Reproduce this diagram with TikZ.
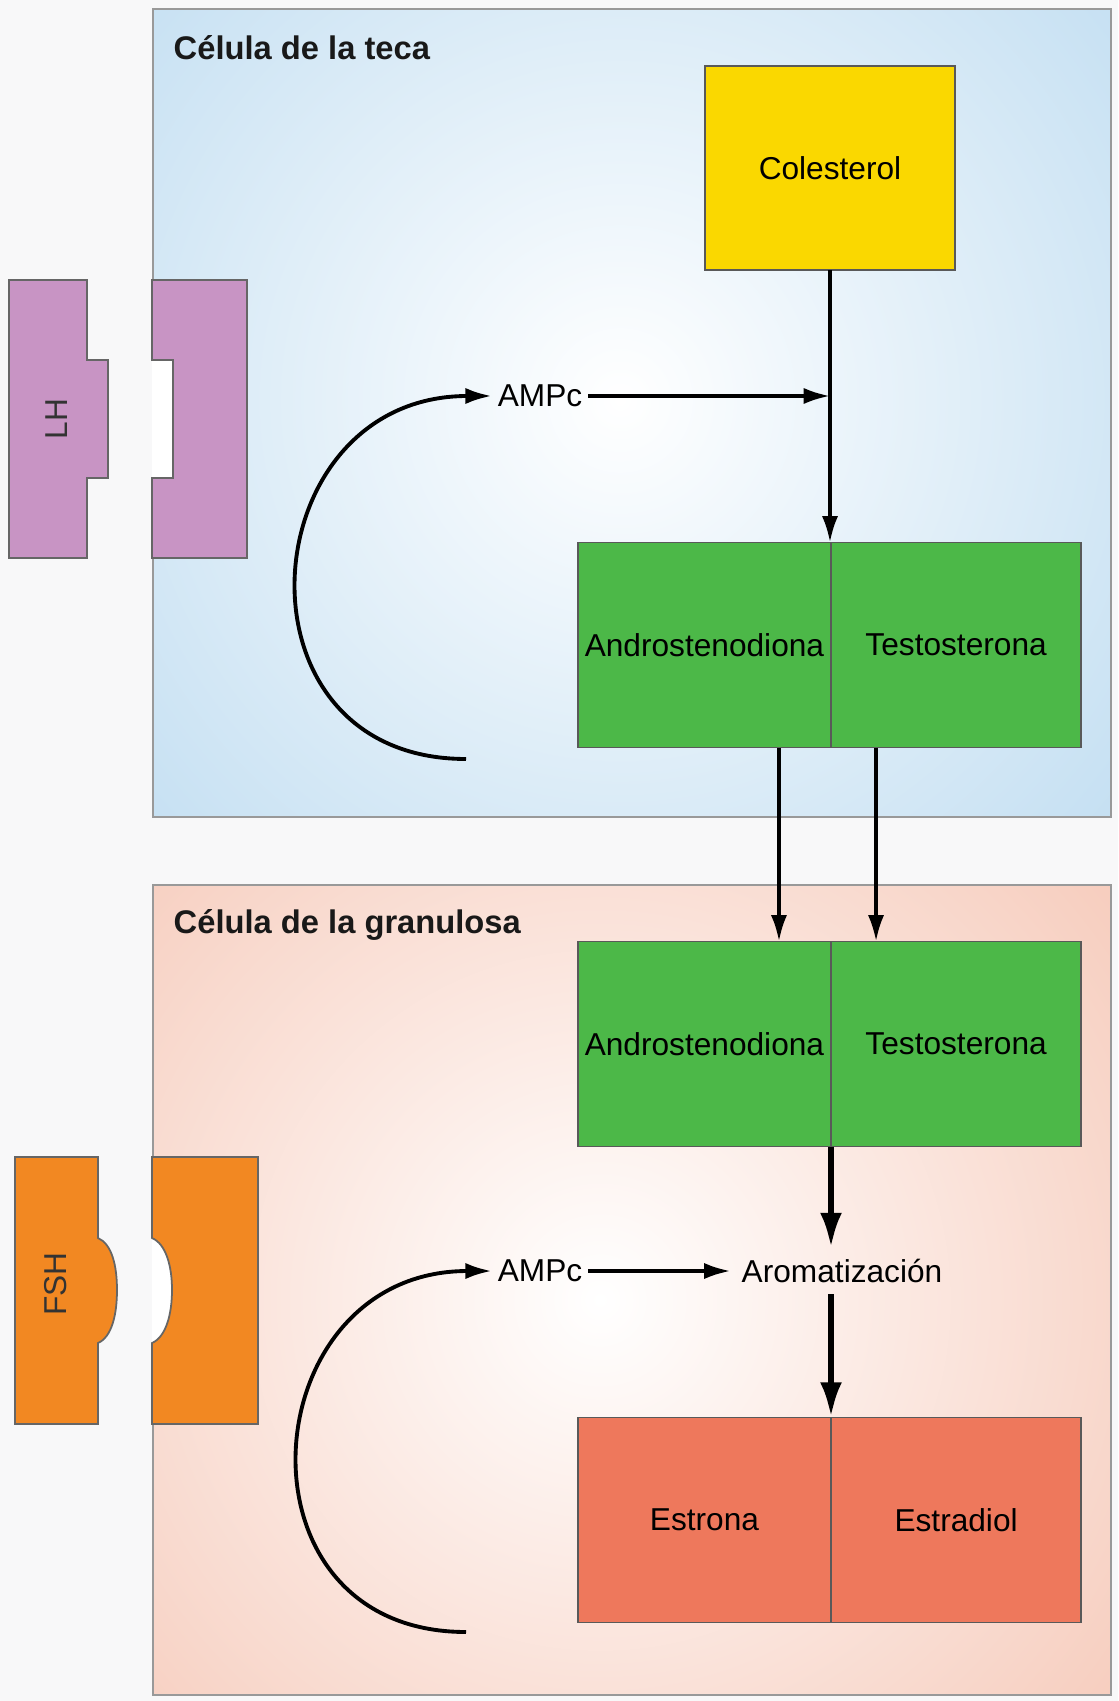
\documentclass[tikz,border=0pt]{standalone}
\usepackage{fontspec}
\setmainfont{Liberation Sans}
\usepackage{tikz}
\usetikzlibrary{arrows.meta,positioning}

\definecolor{tecablue}{RGB}{192,221,241}
\definecolor{granpink}{RGB}{246,202,186}
\definecolor{lhpurple}{RGB}{200,148,196}
\definecolor{fshorange}{RGB}{242,136,34}
\definecolor{colyellow}{RGB}{250,216,0}
\definecolor{hormgreen}{RGB}{76,184,72}
\definecolor{estred}{RGB}{238,120,92}
\definecolor{pagegray}{RGB}{248,248,249}

\begin{document}
\begin{tikzpicture}[x=0.01cm,y=-0.01cm,
    box/.style={draw=black!65,line width=0.5pt,inner sep=0pt,outer sep=0pt,
      minimum height=2.05cm,font=\fontsize{9}{11}\selectfont},
    titulo/.style={font=\fontsize{9.3}{11}\selectfont\bfseries,text=black!90,inner sep=0pt},
    etiq/.style={font=\fontsize{9}{11}\selectfont,inner sep=1.5pt},
    receptor/.style={draw=black!60,line width=0.5pt},
    flecha/.style={-{Latex[length=7.5pt,width=4.6pt]},line width=1pt},
    gruesa/.style={-{Latex[length=10pt,width=6.2pt]},line width=1.7pt},
    curva/.style={-{Latex[length=7.5pt,width=4.6pt]},line width=1.1pt}]
  \useasboundingbox (0,0) rectangle (1118,1701);
  \fill[pagegray] (0,0) rectangle (1118,1701);

  % celula de la teca
  \begin{scope}
    \clip (153,9) rectangle (1111,817);
    \shade[inner color=white,outer color=tecablue] (620,400) circle (7cm);
  \end{scope}
  \draw[draw=black!40,line width=0.6pt] (153,9) rectangle (1111,817);

  % celula de la granulosa
  \begin{scope}
    \clip (153,885) rectangle (1111,1695);
    \shade[inner color=white,outer color=granpink] (600,1300) circle (7cm);
  \end{scope}
  \draw[draw=black!40,line width=0.6pt] (153,885) rectangle (1111,1695);

  \node[titulo,anchor=west] (teca) at (173,48) {Célula de la teca};
  \node[titulo,anchor=west] (gran) at (173,925) {Célula de la granulosa};

  % receptor LH
  \fill[white] (152,360) rectangle (173,478);
  \draw[receptor,fill=lhpurple] (9,280) -- (87,280) -- (87,360) -- (108,360) -- (108,478)
    -- (87,478) -- (87,558) -- (9,558) -- cycle;
  \draw[receptor,fill=lhpurple] (152,280) -- (247,280) -- (247,558) -- (152,558) -- (152,478)
    -- (173,478) -- (173,360) -- (152,360) -- cycle;
  \node[rotate=90,etiq,text=black!80] (lh) at (57,419) {LH};

  % receptor FSH
  \fill[white] (152,1238) .. controls (166,1244) and (172,1266) .. (172,1290)
    .. controls (172,1314) and (166,1337) .. (152,1343) -- cycle;
  \draw[receptor,fill=fshorange] (15,1157) -- (98,1157) -- (98,1238)
    .. controls (112,1244) and (117,1266) .. (117,1290)
    .. controls (117,1314) and (112,1337) .. (98,1343) -- (98,1424) -- (15,1424) -- cycle;
  \draw[receptor,fill=fshorange] (152,1157) -- (258,1157) -- (258,1424) -- (152,1424) -- (152,1343)
    .. controls (166,1337) and (172,1314) .. (172,1290)
    .. controls (172,1266) and (166,1244) .. (152,1238) -- cycle;
  \node[rotate=90,etiq,text=black!80] (fsh) at (56,1284) {FSH};

  % hormonas
  \node[box,fill=colyellow,minimum width=2.5cm,minimum height=2.04cm] (col) at (830,168) {Colesterol};
  \node[box,fill=hormgreen,minimum width=2.53cm,anchor=east] (and1) at (831,645) {Androstenodiona};
  \node[box,fill=hormgreen,minimum width=2.5cm,right=0pt of and1] (tes1) {Testosterona};
  \node[box,fill=hormgreen,minimum width=2.53cm,anchor=east] (and2) at (831,1044) {Androstenodiona};
  \node[box,fill=hormgreen,minimum width=2.5cm,right=0pt of and2] (tes2) {Testosterona};
  \node[box,fill=estred,minimum width=2.53cm,anchor=east] (est) at (831,1520) {Estrona};
  \node[box,fill=estred,minimum width=2.5cm,right=0pt of est] (estr) {Estradiol};

  \node[etiq] (amp1) at (540,396) {AMPc};
  \node[etiq] (amp2) at (540,1271) {AMPc};
  \node[etiq,inner sep=3pt] (arom) at (842,1271) {Aromatización};

  \coordinate (arc1) at (466,759);
  \coordinate (arc2) at (466,1632);

  % flechas
  \draw[curva] (arc1) to[out=180,in=180,looseness=1.7] (amp1.west);
  \draw[curva] (arc2) to[out=180,in=180,looseness=1.7] (amp2.west);
  \draw[flecha] (col.south) -- (col.south |- and1.north);
  \draw[flecha] (amp1.east) -- (amp1.east -| col.south);
  \draw[flecha] ([xshift=-0.52cm]and1.south east) -- ([xshift=-0.52cm]and2.north east);
  \draw[flecha] ([xshift=0.45cm]tes1.south west) -- ([xshift=0.45cm]tes2.north west);
  \draw[flecha] (amp2.east) -- (arom.west);
  \draw[gruesa] (and2.south east) -- (and2.south east |- arom.north);
  \draw[gruesa] (and2.south east |- arom.south) -- (est.north east);
\end{tikzpicture}
\end{document}
